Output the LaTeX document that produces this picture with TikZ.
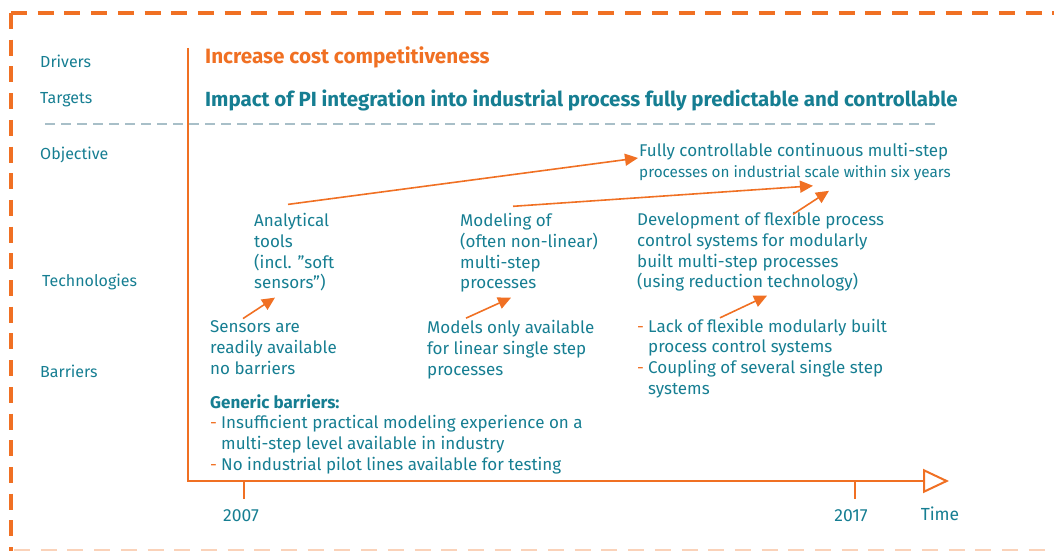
\documentclass[tikz,border=0pt]{standalone}
\usepackage{fontspec}
\setmainfont{Fira Sans}
\usetikzlibrary{arrows.meta,calc}
\definecolor{org}{RGB}{240,112,35}
\definecolor{tl}{RGB}{22,126,146}
\definecolor{gry}{RGB}{168,191,200}
\definecolor{peach}{RGB}{250,210,185}
\newcommand\bodyf{\fontsize{17}{20.7}\selectfont}
\newcommand\smallbodyf{\fontsize{15.3}{20}\selectfont}
\newcommand\lblf{\fontsize{16}{18}\selectfont}
\newcommand\yearf{\fontsize{17.5}{19}\selectfont}
\newcommand\headf{\fontsize{20.7}{24}\selectfont\bfseries}
\newcommand\titlef{\fontsize{20.5}{24}\selectfont\bfseries}
\newcommand\od{\makebox[11pt][l]{\textcolor{org}{-}}}
\newcommand\oi{\makebox[11pt]{}}
\newcommand\sq{\symbol{34}}
\begin{document}
\begin{tikzpicture}[x=1pt,y=-1pt,
  txt/.style={inner sep=0pt, text=tl, font=\bodyf, align=left, anchor=west},
  lbl/.style={inner sep=0pt, text=tl, font=\lblf, anchor=west},
  head/.style={inner sep=0pt, anchor=west},
  arr/.style={draw=org, line width=1.6pt, -{Triangle[length=13pt,width=12pt]}},
  axisline/.style={draw=org, line width=2pt},
  frame/.style={draw=org, line width=4.5pt, dash pattern=on 16pt off 10.7pt}]
\useasboundingbox (0,0) rectangle (1054,551);
% frame
\coordinate (c0) at (11,13);
\coordinate (c1) at (1054,13);
\coordinate (c2) at (11,551);
\coordinate (c3) at (1054,551);
\draw[frame] (c0) -- (c1);
\draw[frame] (c0) -- (c2);
\draw[frame, draw=peach] ([xshift=3pt]c2) -- (c3);
% gray separator
\coordinate (g1) at (45,124);
\coordinate (g2) at (940,124);
\draw[gry, line width=2.5pt, dash pattern=on 10pt off 6pt] (g1) -- (g2);
% row labels
\node[lbl] (drv) at (40,61) {Drivers};
\node[lbl] (tgt) at (40,100) {Targets};
\node[lbl] (objl) at (40,155) {Objective};
\node[lbl] (tech) at (42,282) {Technologies};
\node[lbl] (barr) at (40,371) {Barriers};
% axes
\coordinate (top) at (188,48);
\coordinate (o) at (188,481);
\coordinate (tend) at (949,481);
\draw[axisline, -{Triangle[open,length=26pt,width=24pt]}] (top) -- (o) -- (tend);
\coordinate (t1) at (244,481);
\coordinate (t2) at (855,481);
\node[inner sep=0pt, text=tl, font=\yearf] (y07) at (241,516) {2007};
\node[inner sep=0pt, text=tl, font=\yearf] (y17) at (851,516) {2017};
\node[inner sep=0pt, text=tl, font=\yearf] (time) at (940,514) {Time};
\draw[axisline] (t1) -- ([yshift=-18pt]t1);
\draw[axisline] (t2) -- ([yshift=-18pt]t2);
% headlines
\node[head, text=org, font=\headf] (driver) at (205,57) {Increase cost competitiveness};
\node[head, text=tl, font=\titlef] (target) at (205,100) {Impact of PI integration into industrial process fully predictable and controllable};
% objective
\node[txt] (obj) at (639,162) {Fully controllable continuous multi-step\\{\smallbodyf processes on industrial scale within six years}};
% technologies
\node[txt] (tools) at (254,252.5) {Analytical\\tools\\(incl. \sq soft\\sensors\sq)};
\node[txt] (model) at (460,253) {Modeling of\\(often non-linear)\\multi-step\\processes};
\node[txt] (devel) at (637,252) {Development of flexible process\\control systems for modularly\\built multi-step processes\\(using reduction technology)};
% barriers
\node[txt] (sens) at (210,347.5) {Sensors are\\readily available\\no barriers};
\node[txt] (lin) at (427,349.5) {Models only available\\for linear single step\\processes};
\node[txt] (devb) at (637,358.5) {\od Lack of flexible modularly built\\\oi process control systems\\\od Coupling of several single step\\\oi systems};
\node[txt] (gen) at (210,434) {\textbf{Generic barriers:}\\\od Insufficient practical modeling experience on a\\\oi multi-step level available in industry\\\od No industrial pilot lines available for testing};
% arrows
\draw[arr] ($(tools.north west)+(34,-9)$) -- ($(obj.west)+(-1,-4)$);
\draw[arr] ($(model.north west)+(53,-7)$) -- ($(obj.south west)+(174,5)$);
\draw[arr] ($(devel.north west)+(156,2)$) -- ($(obj.south west)+(190,10)$);
\draw[arr] ($(sens.north west)+(33,-2)$) -- ($(tools.south west)+(21,6)$);
\draw[arr] ($(lin.north west)+(39,-2)$) -- ($(model.south west)+(51,5)$);
\draw[arr] ($(devb.north west)+(83,-1)$) -- ($(devel.south west)+(130,4)$);
\end{tikzpicture}
\end{document}
